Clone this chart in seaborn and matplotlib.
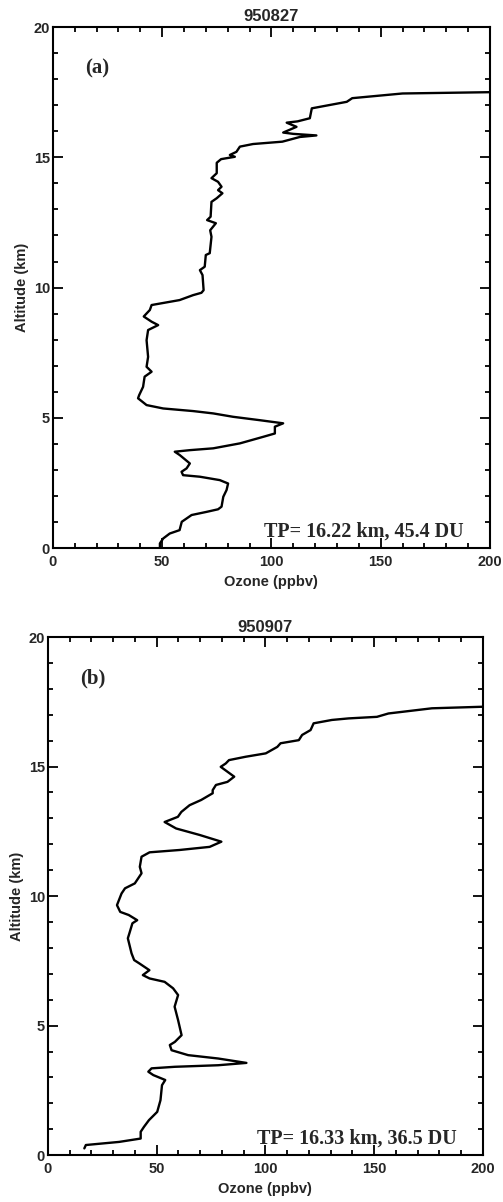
import matplotlib
matplotlib.use("Agg")
import matplotlib.pyplot as plt
from matplotlib.ticker import MultipleLocator
import numpy as np
import pandas as pd
import seaborn as sns

# --- panel (a) 950827 ---
alt_a = [0.05, 0.18, 0.37, 0.56, 0.69, 1.01, 1.27, 1.39, 1.49, 1.59, 1.97, 2.23, 2.48, 2.61,
         2.74, 2.80, 2.93, 3.06, 3.25, 3.57, 3.70, 3.76, 3.83, 4.02, 4.27, 4.40, 4.66, 4.79,
         4.91, 5.04, 5.17, 5.26, 5.36, 5.49, 5.75, 5.87, 6.19, 6.58, 6.77, 6.96, 7.34, 7.98,
         8.37, 8.56, 8.69, 8.89, 9.14, 9.33, 9.52, 9.71, 9.80, 9.90, 10.48, 10.67, 10.80,
         11.25, 11.32, 11.95, 12.20, 12.47, 12.59, 12.72, 13.29, 13.43, 13.62, 13.74, 13.87,
         14.06, 14.20, 14.39, 14.79, 14.93, 15.02, 15.09, 15.21, 15.41, 15.51, 15.60, 15.78,
         15.84, 15.90, 15.95, 16.17, 16.33, 16.38, 16.50, 16.88, 17.13, 17.27, 17.45, 17.50]
ozone_a = [49, 49, 50.5, 53.5, 58, 59, 63.5, 70.3, 75.6, 77.2, 78, 79.5, 80.2, 76.4,
           67.3, 59.6, 58.9, 61.2, 62.7, 58.1, 55.8, 62.7, 73.4, 85.6, 96.2, 101.6, 101.6, 105.4,
           94.7, 82.5, 73.4, 64.2, 50.5, 42.9, 39, 39.5, 41.3, 42, 45.2, 42.9, 43.6, 42.9,
           43.6, 48.2, 45.2, 41.6, 44.4, 45.2, 58, 64.2, 68, 69, 68.5, 67.3, 69.5,
           70, 71.8, 72.6, 72, 74.6, 70.6, 72.2, 72.6, 75, 77.6, 75.6, 77.2,
           75.6, 72.6, 75, 75, 77, 83.3, 81, 84, 85.6, 91.6, 105, 113,
           120.6, 110, 105.4, 111.5, 107, 112, 117.6, 118.5, 134.5, 137, 160, 200]

# --- panel (b) 950907 ---
alt_b = [0.26, 0.39, 0.51, 0.64, 0.90, 1.09, 1.35, 1.67, 2.12, 2.70, 2.90, 3.09, 3.22, 3.35,
         3.41, 3.47, 3.56, 3.73, 3.86, 4.05, 4.25, 4.37, 4.63, 5.21, 5.73, 6.18, 6.44, 6.69,
         6.82, 6.95, 7.14, 7.40, 7.53, 7.79, 8.37, 8.56, 8.95, 9.07, 9.27, 9.39, 9.65, 10.10,
         10.30, 10.49, 10.88, 11.13, 11.52, 11.69, 11.78, 11.90, 12.10, 12.36, 12.61, 12.86,
         13.06, 13.25, 13.51, 13.71, 13.97, 14.09, 14.29, 14.41, 14.61, 14.99, 15.12, 15.25,
         15.38, 15.51, 15.76, 15.90, 16.02, 16.22, 16.41, 16.67, 16.80, 16.86, 16.92, 17.05,
         17.25, 17.31]
ozone_b = [16.8, 17.5, 32.8, 42.7, 42.7, 44.2, 46.5, 50.3, 51.8, 52.5, 54, 48.5, 46.2, 47.7,
           58.4, 78.3, 91.3, 78.3, 64.5, 56.9, 56.1, 58.4, 61.5, 59.9, 58.3, 59.9, 57.6, 53.7,
           46.8, 43.7, 46.7, 42.1, 39.7, 38.5, 36.8, 37.5, 38.9, 41.1, 37.2, 33.3, 31.8, 33.9,
           35.5, 40, 43.1, 42.3, 43.1, 46.8, 60.6, 74.4, 79.8, 69.8, 59, 53.7,
           59.8, 61.4, 65.2, 70.5, 75.8, 75.8, 77.3, 82.6, 85.7, 79.5, 81.8, 83.3,
           91, 100.2, 105.5, 107, 115.4, 116.9, 120.8, 122.2, 130.6, 138.3, 151.3, 156.6,
           176.6, 200]

titles = ["950827", "950907"]
panel_labels = ["(a)", "(b)"]
tp_texts = ["TP= 16.22 km, 45.4 DU", "TP= 16.33 km, 36.5 DU"]

sns.set_theme(style="ticks")
plt.rcParams["font.family"] = ["Liberation Sans", "DejaVu Sans"]

fig = plt.figure(figsize=(5.03, 12.02), dpi=100)
ax_a = fig.add_axes([0.105, 0.544, 0.869, 0.4335])
ax_b = fig.add_axes([0.095, 0.039, 0.865, 0.431])

panels = [
    (ax_a, pd.DataFrame({"ozone": ozone_a, "alt": alt_a})),
    (ax_b, pd.DataFrame({"ozone": ozone_b, "alt": alt_b})),
]

for i, (ax, df) in enumerate(panels):
    sns.lineplot(data=df, x="ozone", y="alt", sort=False, estimator=None,
                 color="black", linewidth=1.7, ax=ax)
    ax.set_xlim(0, 200)
    ax.set_ylim(0, 20)
    ax.xaxis.set_major_locator(MultipleLocator(50))
    ax.xaxis.set_minor_locator(MultipleLocator(10))
    ax.yaxis.set_major_locator(MultipleLocator(5))
    ax.yaxis.set_minor_locator(MultipleLocator(1))
    ax.tick_params(which="both", direction="in", top=True, right=True, color="black", width=1.3)
    ax.tick_params(which="major", length=7)
    ax.tick_params(which="minor", length=3.5)
    ax.tick_params(axis="x", which="major", pad=5, labelsize=10.5)
    ax.tick_params(axis="y", which="major", pad=2, labelsize=10.5)
    for lab in ax.get_xticklabels() + ax.get_yticklabels():
        lab.set_fontweight("bold")
    for sp in ax.spines.values():
        sp.set_visible(True)
        sp.set_linewidth(1.5)
        sp.set_color("black")
    ax.set_xlabel("Ozone (ppbv)", fontsize=10.5, fontweight="bold", labelpad=4)
    ax.set_ylabel("Altitude (km)", fontsize=10.5, fontweight="bold", labelpad=3)
    ax.set_title(titles[i], fontsize=12, fontweight="bold", pad=4)
    ax.text(15, 18.4, panel_labels[i], fontsize=15, fontweight="bold",
            family=["Liberation Serif"], va="center", ha="left")
    ax.text(188, 0.45, tp_texts[i], fontsize=14.5, fontweight="bold",
            family=["Liberation Serif"], va="baseline", ha="right")

fig.savefig("out.png", dpi=100, facecolor="white")
